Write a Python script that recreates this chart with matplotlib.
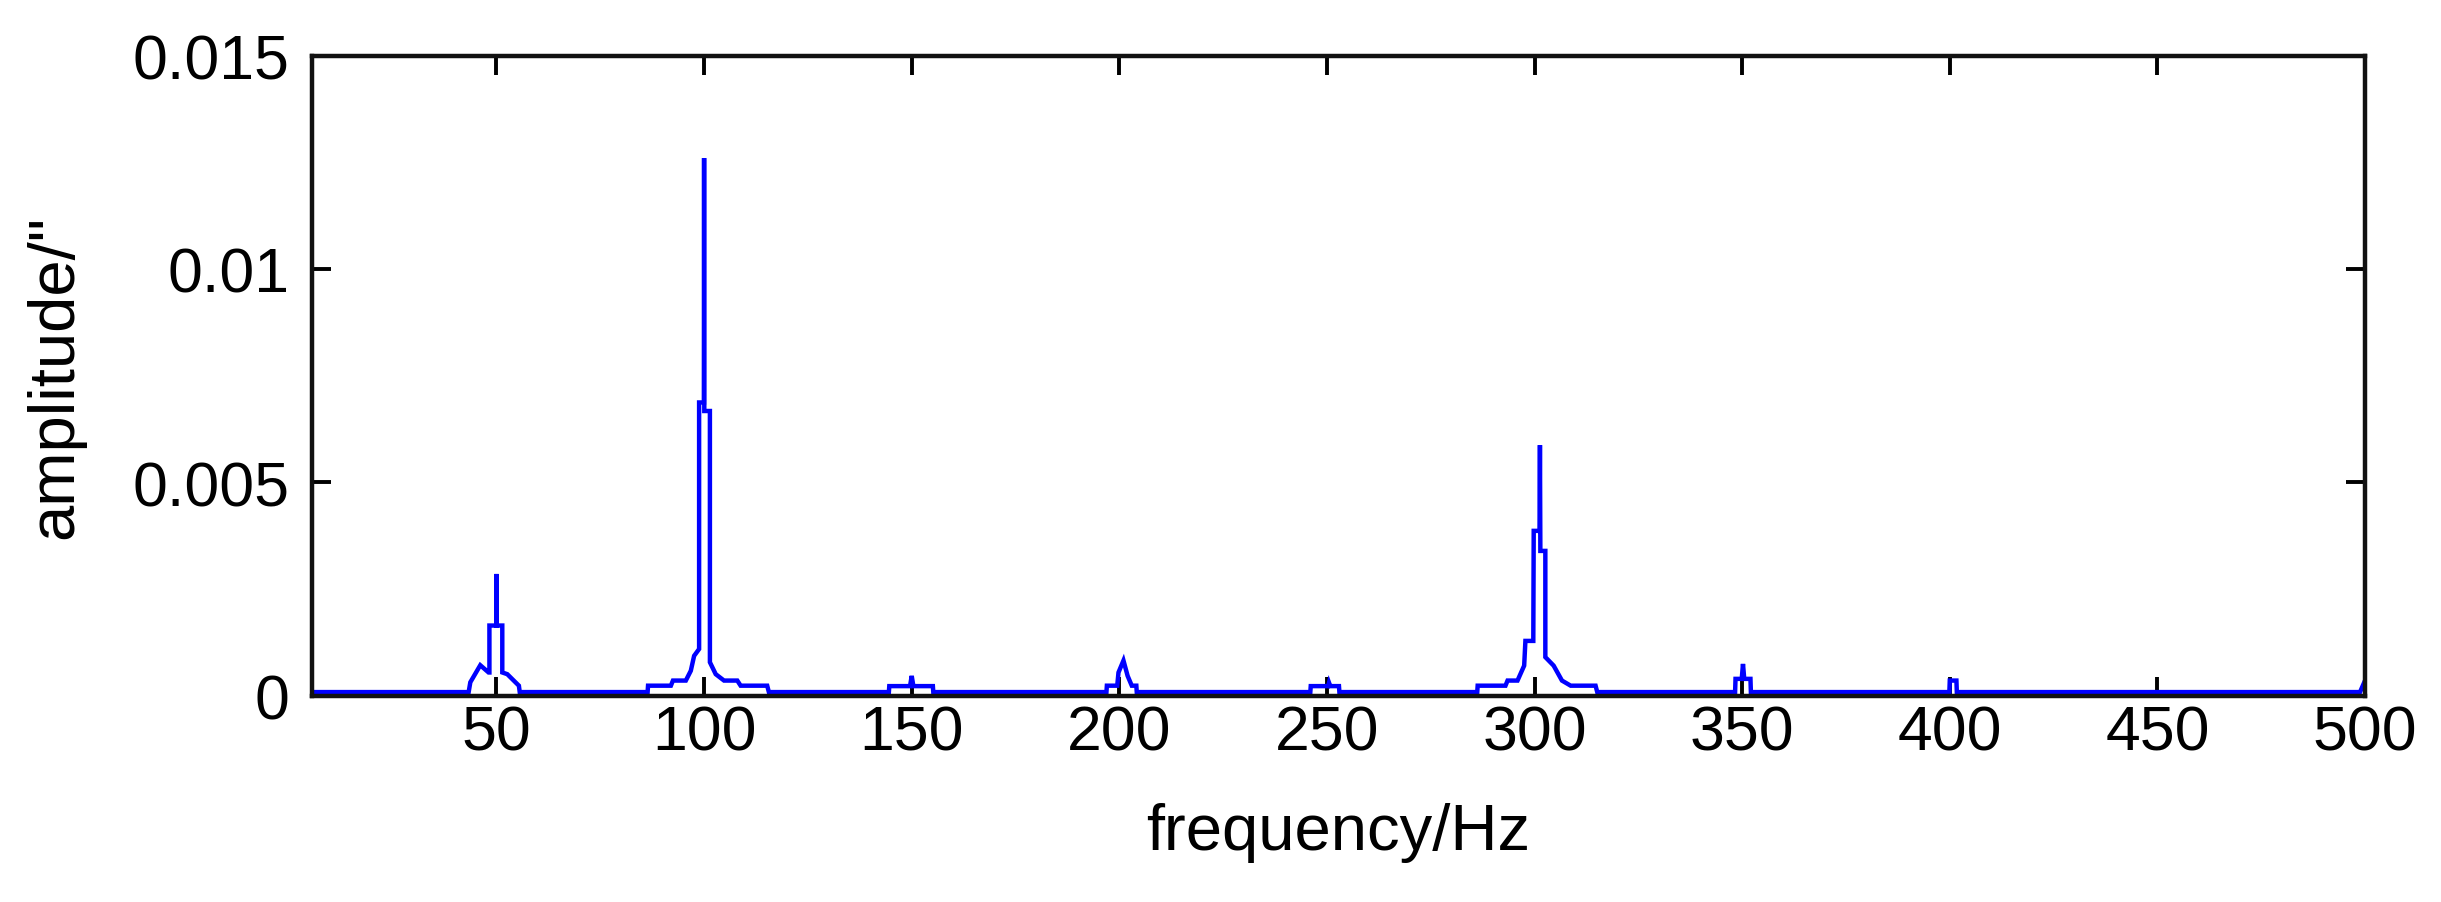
import matplotlib
matplotlib.use('Agg')
import matplotlib.pyplot as plt

base = 0.00008

pico50_f = [5.5, 43.3, 43.7, 46.1, 48.1, 48.3, 48.3, 49.95, 50.0, 50.05, 51.4, 51.4, 52.6, 55.4, 55.6]
pico50_a = [base, base, 0.00031, 0.00071, 0.00054, 0.00054, 0.00164, 0.00164, 0.00285, 0.00164, 0.00164, 0.00054, 0.0005, 0.00023, base]

pico100_f = [86.4, 86.5, 92.0, 92.5, 95.6, 96.8, 97.6, 98.8, 98.8, 99.95, 100.0, 100.05, 101.4, 101.4, 102.8, 104.8, 108.0, 108.8, 115.2, 115.6]
pico100_a = [base, 0.00023, 0.00023, 0.00035, 0.00035, 0.00058, 0.00093, 0.00109, 0.00687, 0.00687, 0.0126, 0.00667, 0.00667, 0.00078, 0.0005, 0.00035, 0.00035, 0.00023, 0.00023, base]

pico150_f = [144.5, 144.6, 149.6, 150.0, 150.4, 155.1, 155.2]
pico150_a = [base, 0.00022, 0.00022, 0.00046, 0.00022, 0.00022, base]

pico200_f = [196.9, 197.0, 199.5, 199.8, 201.0, 202.0, 203.0, 204.1, 204.2]
pico200_a = [base, 0.00023, 0.00023, 0.00054, 0.00082, 0.00046, 0.00023, 0.00023, base]

pico250_f = [246.0, 246.1, 250.3, 250.5, 250.8, 252.9, 253.0]
pico250_a = [base, 0.00022, 0.00022, 0.0003, 0.00022, 0.00022, base]

pico300_f = [286.2, 286.3, 293.0, 293.5, 295.9, 297.5, 297.8, 299.7, 299.8, 301.2, 301.3, 301.4, 302.6, 302.6, 304.6, 306.6, 308.7, 314.7, 315.1]
pico300_a = [base, 0.00023, 0.00023, 0.00035, 0.00035, 0.0007, 0.00128, 0.00128, 0.00386, 0.00386, 0.00587, 0.00339, 0.00339, 0.0009, 0.0007, 0.00035, 0.00023, 0.00023, base]

pico350_f = [348.3, 348.4, 349.9, 350.2, 350.5, 352.0, 352.1]
pico350_a = [base, 0.00039, 0.00039, 0.00074, 0.00039, 0.00039, base]

pico400_f = [399.9, 400.0, 401.6, 401.7]
pico400_a = [base, 0.00035, 0.00035, base]

final_f = [498.8, 500.0]
final_a = [base, 0.00035]

xticks = [50, 100, 150, 200, 250, 300, 350, 400, 450, 500]
yticks = [0, 0.005, 0.01, 0.015]
yticklabels = ['0', '0.005', '0.01', '0.015']

freq = pico50_f + pico100_f + pico150_f + pico200_f + pico250_f + pico300_f + pico350_f + pico400_f + final_f
amp = pico50_a + pico100_a + pico150_a + pico200_a + pico250_a + pico300_a + pico350_a + pico400_a + final_a

plt.rcParams['font.family'] = ['Liberation Sans', 'DejaVu Sans']

W, H = 2441, 903
fig = plt.figure(figsize=(W / 100, H / 100), dpi=100)
izq, der, arr, abj = 311.7, 2365, 56.7, 696.5
ax = fig.add_axes([izq / W, 1 - abj / H, (der - izq) / W, (abj - arr) / H])

ax.plot(freq, amp, color='#0000ff', linewidth=3.2, solid_joinstyle='miter')

ax.set_xlim(5.5, 500)
ax.set_ylim(0, 0.015)
ax.set_xticks(xticks)
ax.set_yticks(yticks)
ax.set_yticklabels(yticklabels)

ax.tick_params(direction='in', top=True, right=True, length=14, width=2.8, labelsize=45, colors='black')
ax.tick_params(axis='x', pad=6)
ax.tick_params(axis='y', pad=16)
for s in ax.spines.values():
  s.set_linewidth(3.2)
  s.set_color('#111111')

ax.set_xlabel('frequency/Hz', fontsize=47, va='center')
ax.xaxis.set_label_coords(0.5, -0.213)
ax.set_ylabel('amplitude/"', fontsize=47, va='center')
ax.yaxis.set_label_coords(-0.125, 0.5)

plt.savefig('out.png', dpi=100)
